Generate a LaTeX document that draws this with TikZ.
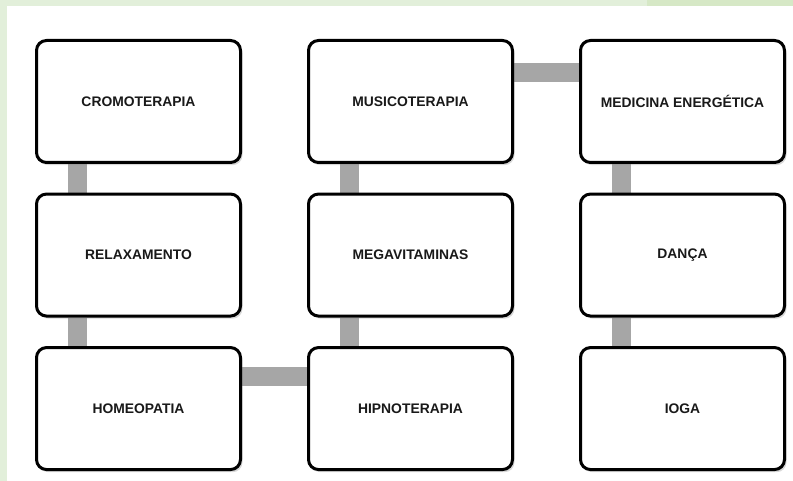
\documentclass[tikz,border=0pt]{standalone}
\usepackage{fontspec}
\setmainfont{Liberation Sans}
\usetikzlibrary{positioning,shadows}
\definecolor{panelgreen}{RGB}{226,239,218}
\definecolor{tabgreen}{RGB}{214,232,198}
\definecolor{linkgray}{RGB}{166,166,166}
\pgfdeclarelayer{back}
\pgfsetlayers{back,main}

\begin{document}
\begin{tikzpicture}[
            x=0.75pt, y=0.75pt,
            node distance=21.4pt and 48.75pt,
            block/.style={rectangle, draw, line width=2.25pt, fill=white, rounded corners=7.5pt, minimum width=153pt, minimum height=91.5pt, font=\fontsize{10.4}{12}\selectfont\bfseries, text=black!90, drop shadow={opacity=0.3, shadow xshift=1.5pt, shadow yshift=-2pt}},
            link/.style={linkgray, line width=14.25pt}
        ]
            \begin{pgfonlayer}{back}
                \fill[panelgreen] (0,0) rectangle (793,-481);
                \fill[white] (7,-6) rectangle (793,-481);
                \fill[tabgreen] (647,0) rectangle (793,-6);
            \end{pgfonlayer}
            \useasboundingbox (0,0) rectangle (793,-481);

            \node[block] (crom) at (138.5,-101.5) {CROMOTERAPIA};
            \node[block, below=of crom] (relax) {RELAXAMENTO};
            \node[block, below=of relax] (homeo) {HOMEOPATIA};
            \node[block, right=of homeo] (hipno) {HIPNOTERAPIA};
            \node[block, above=of hipno] (mega) {MEGAVITAMINAS};
            \node[block, above=of mega] (music) {MUSICOTERAPIA};
            \node[block, right=of music] (medic) {MEDICINA ENERGÉTICA};
            \node[block, below=of medic] (danca) {DANÇA};
            \node[block, below=of danca] (ioga) {IOGA};

            \begin{pgfonlayer}{back}
                \draw[link] ([xshift=-46.1pt]crom.south) -- ([xshift=-46.1pt]relax.north);
                \draw[link] ([xshift=-46.1pt]relax.south) -- ([xshift=-46.1pt]homeo.north);
                \draw[link] ([yshift=24pt]homeo.east) -- ([yshift=24pt]hipno.west);
                \draw[link] ([xshift=-46.1pt]hipno.north) -- ([xshift=-46.1pt]mega.south);
                \draw[link] ([xshift=-46.1pt]mega.north) -- ([xshift=-46.1pt]music.south);
                \draw[link] ([yshift=22.1pt]music.east) -- ([yshift=22.1pt]medic.west);
                \draw[link] ([xshift=-46.1pt]medic.south) -- ([xshift=-46.1pt]danca.north);
                \draw[link] ([xshift=-46.1pt]danca.south) -- ([xshift=-46.1pt]ioga.north);
            \end{pgfonlayer}
        \end{tikzpicture}
\end{document}
